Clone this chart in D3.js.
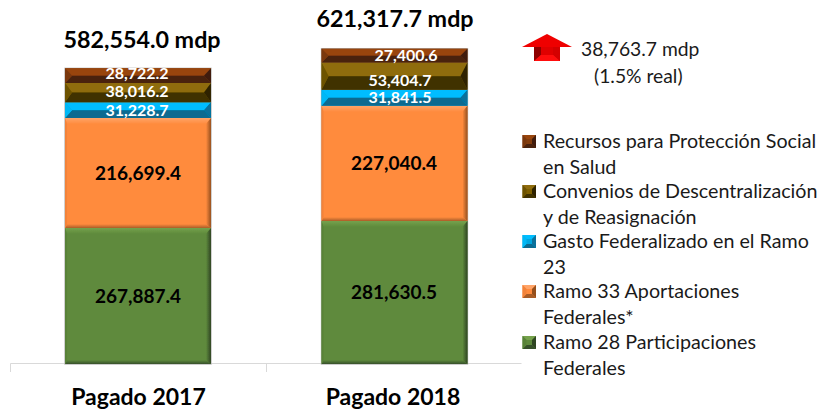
<!DOCTYPE html>
<html><head><meta charset="utf-8">
<script src="https://cdn.jsdelivr.net/npm/d3@7/dist/d3.min.js"></script>
<style>html,body{margin:0;padding:0;background:#fff}svg{display:block}text{font-family:Lato,"Open Sans",sans-serif}</style>
</head><body><svg id="c" width="818" height="412"></svg>
<script>
const categories = ["Pagado 2017","Pagado 2018"];
const totals = ["582,554.0 mdp","621,317.7 mdp"];
const seriesNames = ["Ramo 28 Participaciones Federales","Ramo 33 Aportaciones Federales*","Gasto Federalizado en el Ramo 23","Convenios de Descentralización y de Reasignación","Recursos para Protección Social en Salud"];
const ramo28 = [267887.4,281630.5];
const ramo33 = [216699.4,227040.4];
const gasto23 = [31228.7,31841.5];
const convenios = [38016.2,53404.7];
const recursos = [28722.2,27400.6];
const legendLines = [["Recursos para Protección Social","en Salud"],["Convenios de Descentralización","y de Reasignación"],["Gasto Federalizado en el Ramo","23"],["Ramo 33 Aportaciones","Federales*"],["Ramo 28 Participaciones","Federales"]];
const seriesValues = [ramo28,ramo33,gasto23,convenios,recursos];
const palette = [
 {face:"#5f8a3c",top:"#74a14c",bottom:"#36502a",left:"#588238",right:"#2f4423"},
 {face:"#ff8b3d",top:"#ffa468",bottom:"#a85c28",left:"#f2833a",right:"#95501f"},
 {face:"#00a6df",top:"#00bdff",bottom:"#076a90",left:"#00b8f6",right:"#07709a"},
 {face:"#7f6000",top:"#8f6c0a",bottom:"#3f3003",left:"#6d5204",right:"#2e2306"},
 {face:"#843c0c",top:"#98440f",bottom:"#4a220a",left:"#7a380c",right:"#3f1d08"}
];
const labelColor = ["#000","#000","#fff","#fff","#fff"];

const svg = d3.select("#c");
const x = d3.scaleBand().domain(categories).range([10,522]).paddingInner(0).paddingOuter(0);
const y = d3.scaleLinear().domain([0,700000]).range([364,8.75]);
const barW = x.bandwidth()*0.57;

const defs=svg.append("defs");
defs.append("filter").attr("id","soft").append("feGaussianBlur").attr("stdDeviation",0.6);
function grad(id,from,to,x2,y2){
  const g=defs.append("linearGradient").attr("id",id).attr("x1",0).attr("y1",0).attr("x2",x2).attr("y2",y2);
  g.append("stop").attr("offset",0).attr("stop-color",from);
  g.append("stop").attr("offset",1).attr("stop-color",to);
}
palette.forEach((p,i)=>{
  grad("gr"+i,p.face,p.right,1,0);
  grad("gb"+i,p.face,p.bottom,0,1);
  grad("gt"+i,p.top,p.face,0,1);
});
function bevel(g,x0,y0,x1,y1,s,opt){
  const p=palette[s],h=y1-y0;
  const big=h>40;
  const dT=big?opt.t:h/2,dB=big?opt.b:h/2,dx=big?opt.x:opt.sx;
  const dL=big?opt.l:opt.sx;
  const poly=(pts,f)=>g.append("polygon").attr("points",pts.map(q=>q.join(",")).join(" ")).attr("fill",f);
  poly([[x0,y0],[x1,y0],[x1,y1],[x0,y1]],p.face);
  poly([[x0,y0],[x1,y0],[x1-dx,y0+dT],[x0+dL,y0+dT]],big?"url(#gt"+s+")":p.top);
  poly([[x0,y1],[x1,y1],[x1-dx,y1-dB],[x0+dL,y1-dB]],big?"url(#gb"+s+")":p.bottom);
  poly([[x0,y0],[x0+dL,y0+dT],[x0+dL,y1-dB],[x0,y1]],p.left);
  poly([[x1,y0],[x1-dx,y0+dT],[x1-dx,y1-dB],[x1,y1]],big?"url(#gr"+s+")":p.right);
}

// axis
const axis = svg.append("g").attr("stroke","#d9d9d9").attr("fill","none");
axis.append("path").attr("d",d3.line()([[x.range()[0]+.5,372],[x.range()[0]+.5,363.5],[x.range()[1]-.5,363.5]]));
categories.forEach((c,i)=>{const tx=x(c)+x.bandwidth();axis.append("line").attr("x1",tx+.5).attr("x2",tx+.5).attr("y1",363.5).attr("y2",i==1?363.5:372);});

// stacked bars
const barsG=svg.append("g").attr("filter","url(#soft)");
categories.forEach((c,i)=>{
  const x0=x(c)+(x.bandwidth()-barW)/2+(i?0.5:0);
  barsG.append("rect").attr("x",x0-.7).attr("width",barW+1.4)
    .attr("y",y(d3.sum(seriesValues,v=>v[i]))-.7).attr("height",y(0)-y(d3.sum(seriesValues,v=>v[i]))+1.4).attr("fill","#b8b8b8");
  let acc=0;
  seriesValues.forEach((vals,s)=>{
    const v=vals[i];
    bevel(barsG,x0,y(acc+v),x0+barW,y(acc),s,{t:6,b:4,l:2,x:5,sx:7});
    acc+=v;
  });
});
// data labels
const labelShift=[[[0,0],[0,0],[-1,0],[-1,-1],[-1,-2]],[[0,0],[0,0],[6,0],[6,4],[12,0]]];
const totalX=[142,395], totalY=[48,27], catX=[138.5,393];
categories.forEach((c,i)=>{
  const cx=x(c)+x.bandwidth()/2; let acc=0;
  seriesValues.forEach((vals,s)=>{
    const v=vals[i];
    const sh=labelShift[i][s];
    svg.append("text").attr("x",cx+sh[0]).attr("y",y(acc+v/2)+sh[1]).attr("dy","0.35em")
      .attr("text-anchor","middle").attr("font-weight",700)
      .attr("font-size",s<2?19:16).attr("fill",labelColor[s]).text(d3.format(",.1f")(v));
    acc+=v;
  });
  svg.append("text").attr("x",totalX[i]).attr("y",totalY[i]).attr("text-anchor","middle")
    .attr("font-weight",700).attr("font-size",23.3).attr("fill","#000").text(totals[i]);
  svg.append("text").attr("x",catX[i]).attr("y",405).attr("text-anchor","middle")
    .attr("font-weight",700).attr("font-size",23).attr("fill","#000").text(c);
});
// arrow
const ag=svg.append("g").attr("filter","url(#soft)");
const poly=(pts,f)=>ag.append("polygon").attr("points",pts.map(q=>q.join(",")).join(" ")).attr("fill",f);
poly([[547,34],[572,47],[522,47]],"#ef0000");
poly([[534,47],[560,47],[560,61],[534,61]],"#e00000");
poly([[534,47],[541,47],[541,55],[534,61]],"#8e0000");
poly([[553,47],[560,47],[560,61],[553,55]],"#d40000");
poly([[534,61],[560,61],[553,55],[541,55]],"#ff0d0d");
svg.append("text").attr("x",581).attr("y",56).attr("font-size",19.3).attr("fill","#1a1a1a").text("38,763.7 mdp");
svg.append("text").attr("x",594).attr("y",83).attr("font-size",19.3).attr("fill","#1a1a1a").text("(1.5% real)");
// legend
const ly=[[148,174],[198,224],[248,274],[298,324],[349,375]];
legendLines.forEach((lines,i)=>{
  const s=4-i;
  const g=svg.append("g").attr("filter","url(#soft)");
  const p=palette[s], b=ly[i][0], X0=522.5,X1=536,Y0=b-13,Y1=b;
  const pl=(pts,f)=>g.append("polygon").attr("points",pts.map(q=>q.join(",")).join(" ")).attr("fill",f);
  pl([[X0,Y0],[X1,Y0],[X1,Y1],[X0,Y1]],p.face);
  pl([[X0,Y0],[X1,Y0],[X1-4,Y0+4],[X0+4,Y0+4]],p.top);
  pl([[X0,Y1],[X1,Y1],[X1-4,Y1-4],[X0+4,Y1-4]],p.bottom);
  pl([[X1,Y0],[X1-4,Y0+4],[X1-4,Y1-4],[X1,Y1]],p.right);
  pl([[X0,Y0],[X0+4,Y0+4],[X0+4,Y1-4],[X0,Y1]],p.left);
  lines.forEach((t,j)=>svg.append("text").attr("x",543).attr("y",ly[i][j]).attr("font-size",19.7).attr("fill","#1a1a1a").text(t));
});
</script></body></html>
